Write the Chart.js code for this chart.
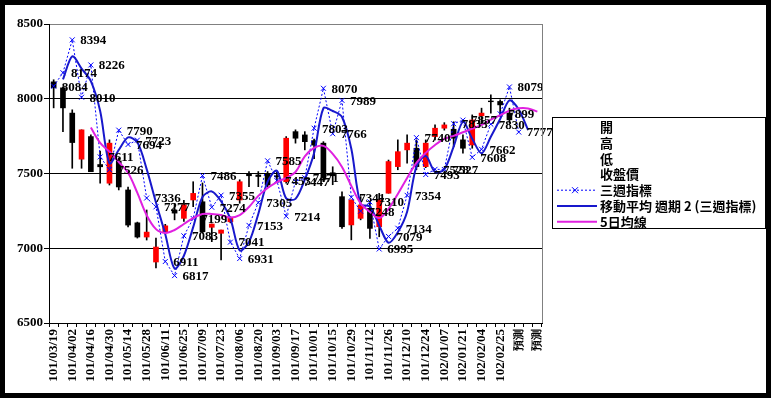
<!DOCTYPE html>
<html>
<head>
<meta charset="utf-8">
<script src="https://cdn.jsdelivr.net/npm/chart.js@4.4.0/dist/chart.umd.min.js"></script>
<style>
  html, body { margin: 0; padding: 0; background: #000; }
  canvas { display: block; }
</style>
</head>
<body>
<canvas id="stockChart" width="771" height="398"></canvas>
<script>
// weekly categories (102/02/11 week closed), last three are forecasts
const categories = [
  '101/03/19','101/03/26','101/04/02','101/04/09','101/04/16','101/04/23','101/04/30','101/05/07',
  '101/05/14','101/05/21','101/05/28','101/06/04','101/06/11','101/06/18','101/06/25','101/07/02',
  '101/07/09','101/07/16','101/07/23','101/07/30','101/08/06','101/08/13','101/08/20','101/08/27',
  '101/09/03','101/09/10','101/09/17','101/09/24','101/10/01','101/10/08','101/10/15','101/10/22',
  '101/10/29','101/11/05','101/11/12','101/11/19','101/11/26','101/12/03','101/12/10','101/12/17',
  '101/12/24','101/12/31','102/01/07','102/01/14','102/01/21','102/01/28','102/02/04','102/02/18',
  '102/02/25','102/03/04','預測','預測','預測'
];

// 開 高 低 收盤價
const openP  = [8113,8073,7904,7596,7747,7560,7435,7584,7390,7170,7075,6908,7110,7255,7200,7323,
                7311,7140,7100,7177,7323,7500,7490,7500,7485,7445,7780,7758,7720,7703,7505,7345,
                7156,7200,7267,7144,7368,7546,7658,7669,7546,7747,7803,7796,7725,7691,7886,7985,
                7982,7904,null,null,null];
const highP  = [8127,8080,7926,7792,7758,7650,7725,7604,7410,7175,7256,7068,7160,7300,7320,7445,
                7437,7162,7122,7210,7458,7513,7513,7513,7510,7747,7792,7780,7730,7713,7545,7378,
                7323,7345,7300,7367,7590,7725,7758,7725,7725,7825,7840,7846,7758,7892,7937,8026,
                7993,7937,null,null,null];
const lowP   = [7939,7779,7535,7535,7512,7435,7423,7390,7142,7068,7055,6868,7100,7190,7180,7278,
                7100,7044,6922,7170,7301,7412,7412,7412,7440,7435,7703,7658,7600,7445,7425,7133,
                7056,7190,7066,7077,7368,7525,7569,7525,7539,7725,7790,7679,7636,7669,7825,7904,
                7881,7837,null,null,null];
const closeP = [8073,7939,7707,7792,7512,7545,7703,7410,7155,7075,7108,7008,7150,7235,7290,7367,
                7110,7162,7122,7200,7445,7485,7480,7423,7478,7736,7736,7713,7690,7470,7485,7144,
                7323,7290,7133,7323,7580,7646,7703,7546,7703,7803,7825,7736,7669,7858,7904,7980,
                7959,7859,null,null,null];

// 三週指標
const weekIndex = [8084,8174,8394,8010,8226,7611,7526,7790,7694,7723,7336,7277,6911,6817,7083,7199,
                   7486,7274,7355,7041,6931,7153,7305,7585,7453,7214,7447,7471,7803,8070,7766,7989,
                   7341,7248,7310,6995,7079,7134,7354,7740,7493,7528,7527,7833,7857,7608,7662,7830,
                   7899,8079,7777,7807,null];

// 5日均線
const ma5 = [null,null,null,null,7807,7705,7646,7577,7505,7370,7221,7128,7102,7122,7162,7202,
             7229,7229,7222,7205,7222,7276,7350,7403,7443,7470,7510,7615,7671,7685,7631,7544,
             7417,7300,7243,7202,7263,7363,7470,7571,7638,7691,7732,7752,7776,7800,7825,7860,
             7890,7920,7936,7935,7914];

const yTicks = [6500, 7000, 7500, 8000, 8500];

// 移動平均 週期 2
const ma2 = weekIndex.map((v, i) =>
  (i > 0 && v != null && weekIndex[i - 1] != null) ? (weekIndex[i - 1] + v) / 2 : null);

const lastIdx = 51; // point hidden behind the 7777 label in the original

const wicks = lowP.map((l, i) => l == null ? null : [l, highP[i]]);
const bodies = openP.map((o, i) => o == null ? null : [o, closeP[i]]);
const bodyColors = openP.map((o, i) => closeP[i] > o ? '#ff0000' : '#000000');

const SERIF = '"Liberation Serif", "Times New Roman", serif';
const CJK = '"Noto Sans CJK TC", "Noto Sans CJK SC", sans-serif';

const framePlugin = {
  id: 'frame',
  beforeDraw(chart) {
    const c = chart.ctx;
    c.save();
    c.fillStyle = '#000';
    c.fillRect(0, 0, chart.width, chart.height);
    c.fillStyle = '#fff';
    c.fillRect(5, 5, chart.width - 10, chart.height - 10);
    c.restore();
  },
  afterDatasetsDraw(chart) {
    // value labels of 三週指標
    const c = chart.ctx;
    const meta = chart.getDatasetMeta(2);
    c.save();
    c.font = 'bold 13px ' + SERIF;
    c.fillStyle = '#000';
    c.textAlign = 'left';
    c.textBaseline = 'middle';
    meta.data.forEach((pt, i) => {
      const v = weekIndex[i];
      if (v == null || i === lastIdx) return;
      c.fillText(String(v), pt.x + 8, pt.y + 1);
    });
    c.restore();
  },
  afterDraw(chart) {
    const c = chart.ctx;
    const a = chart.chartArea;
    c.save();
    c.strokeStyle = '#808080';
    c.lineWidth = 1;
    c.beginPath();
    c.moveTo(Math.round(a.right) + 0.5, a.top);
    c.lineTo(Math.round(a.right) + 0.5, a.bottom);
    c.stroke();

    // legend
    const lx = 552.5, ly = 117.5, lw = 213, lh = 111;
    c.fillStyle = '#fff';
    c.fillRect(lx, ly, lw, lh);
    c.strokeStyle = '#000';
    c.strokeRect(lx, ly, lw, lh);
    const ds = chart.data.datasets;
    const items = [
      { text: '開' }, { text: '高' }, { text: '低' }, { text: '收盤價' },
      { text: ds[2].label, d: ds[2] },
      { text: ds[1].label, d: ds[1] },
      { text: ds[0].label, d: ds[0] }
    ];
    c.font = 'bold 13px ' + CJK;
    c.textAlign = 'left';
    c.textBaseline = 'middle';
    items.forEach((it, k) => {
      const y = 127 + k * 15.8;
      if (it.d) {
        c.save();
        c.strokeStyle = it.d.borderColor;
        c.lineWidth = it.d.borderWidth;
        c.setLineDash(it.d.borderDash || []);
        c.beginPath();
        c.moveTo(557, y);
        c.lineTo(597, y);
        c.stroke();
        if (it.d.pointStyle === 'crossRot') {
          c.setLineDash([]);
          c.lineWidth = 1;
          c.beginPath();
          c.moveTo(572, y - 3); c.lineTo(578, y + 3);
          c.moveTo(578, y - 3); c.lineTo(572, y + 3);
          c.stroke();
        }
        c.restore();
      }
      c.fillStyle = '#000';
      c.fillText(it.text, 600, y);
    });
    c.restore();
  }
};

new Chart(document.getElementById('stockChart'), {
  type: 'bar',
  data: {
    labels: categories,
    datasets: [
      {
        type: 'line', label: '5日均線', data: ma5, order: 1,
        borderColor: '#e020e0', borderWidth: 2, pointRadius: 0, tension: 0.35, spanGaps: false
      },
      {
        type: 'line', label: '移動平均 週期 2 (三週指標)', data: ma2, order: 2,
        borderColor: '#1818cc', borderWidth: 2, pointRadius: 0, tension: 0.3
      },
      {
        type: 'line', label: '三週指標', data: weekIndex, order: 3,
        borderColor: '#0000ff', borderWidth: 1, borderDash: [2, 2],
        pointStyle: 'crossRot', pointBorderColor: '#0000ff', pointBorderWidth: 1,
        pointRadius: ctx => ctx.dataIndex === lastIdx ? 0 : 3.5,
        segment: { borderColor: ctx => ctx.p1DataIndex === lastIdx ? 'transparent' : '#0000ff' },
        tension: 0
      },
      {
        label: 'body', data: bodies, order: 4, grouped: false,
        backgroundColor: bodyColors, barThickness: 5, borderWidth: 0
      },
      {
        label: 'wick', data: wicks, order: 5, grouped: false,
        backgroundColor: '#000', barThickness: 1, borderWidth: 0
      }
    ]
  },
  options: {
    responsive: false,
    animation: false,
    layout: { padding: { left: 5, top: 24, right: 229, bottom: 5 } },
    plugins: { legend: { display: false }, tooltip: { enabled: false } },
    scales: {
      x: {
        offset: true,
        grid: { offset: true, drawOnChartArea: false, drawTicks: true, tickLength: 4, color: '#000' },
        border: { color: '#000', width: 1 },
        ticks: {
          autoSkip: false, maxRotation: 90, minRotation: 90, padding: 2,
          color: '#000',
          font: ctx => ({ family: SERIF, weight: 'bold', size: ctx.tick && ctx.tick.label === '預測' ? 11 : 13 }),
          callback: function (value, index) { return index % 2 === 0 ? this.getLabelForValue(value) : ''; }
        },
        afterFit: s => { s.height = 70; }
      },
      y: {
        min: 6500, max: 8500,
        afterBuildTicks: s => { s.ticks = yTicks.map(v => ({ value: v })); },
        grid: {
          color: ctx => ctx.tick && ctx.tick.value === 8500 ? '#808080' : '#000',
          tickColor: '#000', tickLength: 5, lineWidth: 1
        },
        border: { color: '#000', width: 1 },
        ticks: {
          padding: 1, color: '#000', font: { family: SERIF, size: 13, weight: 'bold' },
          callback: v => String(v)
        },
        afterFit: s => { s.width = 44; }
      }
    }
  },
  plugins: [framePlugin]
});
</script>
</body>
</html>
